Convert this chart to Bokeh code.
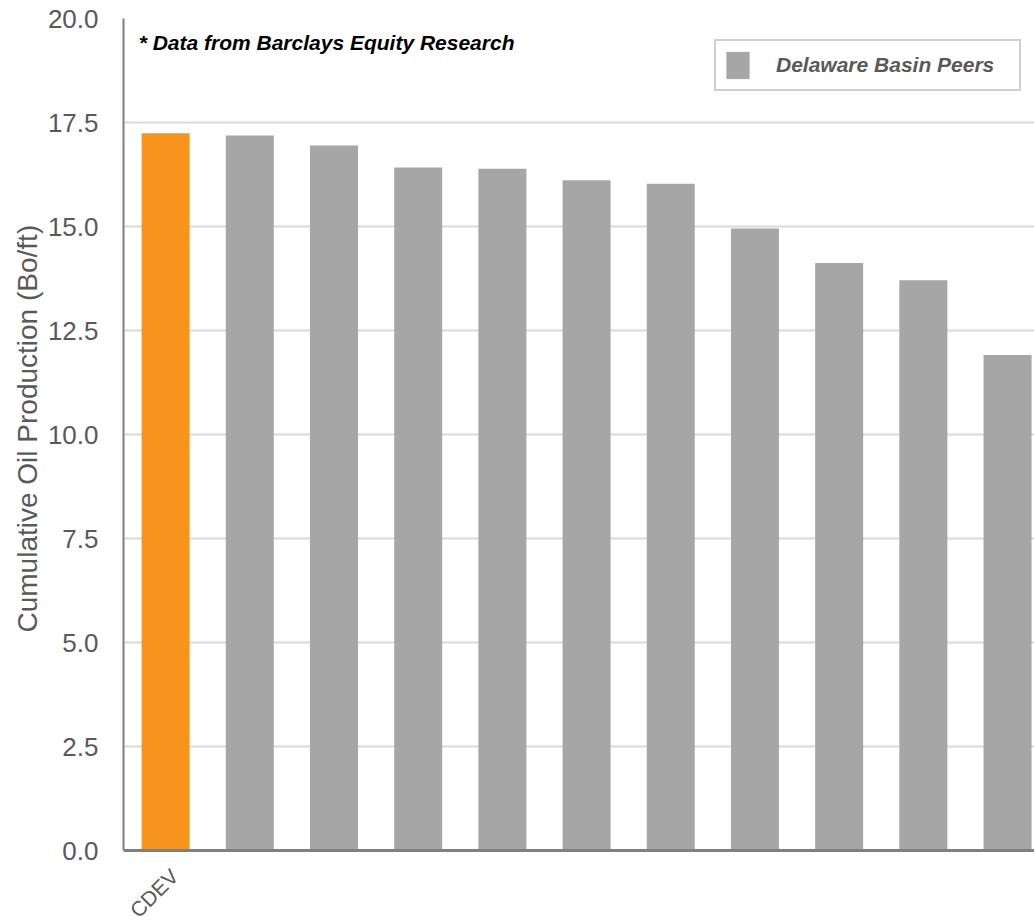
from bokeh.plotting import figure
from bokeh.models import (Range1d, FixedTicker, Legend, LegendItem, Label, Span, Title,
                          ColumnDataSource)
from bokeh.embed import file_html
from bokeh.resources import INLINE
import math

# Cumulative oil production per lateral foot, CDEV vs. Delaware Basin peers
labels = ["CDEV", "", "", "", "", "", "", "", "", "", ""]
values = [17.24, 17.19, 16.95, 16.42, 16.39, 16.11, 16.03, 14.95, 14.12, 13.71, 11.91]
y_ticks = [0.0, 2.5, 5.0, 7.5, 10.0, 12.5, 15.0, 17.5, 20.0]

FONT = "Liberation Sans"
ORANGE = "#F7941D"
GREY_BAR = "#A6A6A6"
TEXT_GREY = "#595959"
AXIS_GREY = "#808080"

xs = list(range(len(values)))
cdev = ColumnDataSource(dict(x=xs[:1], top=values[:1]))
peers = ColumnDataSource(dict(x=xs[1:], top=values[1:]))
named = [(i, lab) for i, lab in zip(xs, labels) if lab]
cat_src = ColumnDataSource(dict(x=[i for i, _ in named], text=[lab for _, lab in named]))

# plot area runs to the bottom edge; the value axis spans 0..20 and the strip
# below zero holds the slanted category names
PX_PER_UNIT = 41.6
y_start = -72 / PX_PER_UNIT

p = figure(width=1034, height=922, output_backend="svg", toolbar_location=None,
           x_axis_type=None,
           x_range=Range1d(-0.5, 10.32), y_range=Range1d(y_start, 20),
           min_border_left=123, min_border_right=0, min_border_top=18, min_border_bottom=0)
p.outline_line_color = None
p.background_fill_color = "white"
p.border_fill_color = "white"

p.vbar(x="x", top="top", width=0.57, source=cdev, fill_color=ORANGE, line_color=None)
r_peers = p.vbar(x="x", top="top", width=0.57, source=peers, fill_color=GREY_BAR, line_color=None)

# category baseline and names
p.add_layout(Span(location=0, dimension="width", line_color=AXIS_GREY, line_width=3))
p.text(x="x", y=-0.53, text="text", source=cat_src, angle=math.pi / 4,
       x_offset=9, text_align="right", text_baseline="middle",
       text_font_size="21px", text_color=TEXT_GREY,
       text_font={"value": FONT})

# y axis
p.yaxis.bounds = (0, 20)
p.yaxis.ticker = FixedTicker(ticks=y_ticks)
p.yaxis.major_label_overrides = {t: f"{t:.1f}" for t in y_ticks}
p.yaxis.major_tick_line_color = None
p.yaxis.minor_tick_line_color = None
p.yaxis.axis_line_color = AXIS_GREY
p.yaxis.axis_line_width = 2
p.yaxis.major_label_text_font = FONT
p.yaxis.major_label_text_font_size = "26px"
p.yaxis.major_label_text_color = TEXT_GREY
p.yaxis.major_label_standoff = 19
p.ygrid.grid_line_color = "#D9D9D9"
p.ygrid.grid_line_width = 2
p.ygrid.level = "underlay"

# value-axis title, starting just above the zero line
p.add_layout(Title(text="Cumulative Oil Production (Bo/ft)", align="left", offset=290,
                   standoff=4, text_font=FONT, text_font_size="28px",
                   text_font_style="normal", text_color=TEXT_GREY), "left")

note = Label(x=-0.32, y=19.42, text="* Data from Barclays Equity Research",
             text_font=FONT, text_font_size="21px", text_font_style="bold italic",
             text_color="black", text_baseline="alphabetic")
p.add_layout(note)

legend = Legend(items=[LegendItem(label="Delaware Basin Peers", renderers=[r_peers])],
                location=(591, 831), orientation="vertical",
                padding=7, margin=0, spacing=0,
                glyph_width=29, glyph_height=34, label_standoff=24, label_width=236,
                label_text_font=FONT, label_text_font_size="21px",
                label_text_font_style="bold italic", label_text_color=TEXT_GREY,
                border_line_color="#A0A0A0", border_line_width=2,
                background_fill_color="white", background_fill_alpha=1.0)
p.add_layout(legend, "center")

open("out.html", "w").write(file_html(p, INLINE))
